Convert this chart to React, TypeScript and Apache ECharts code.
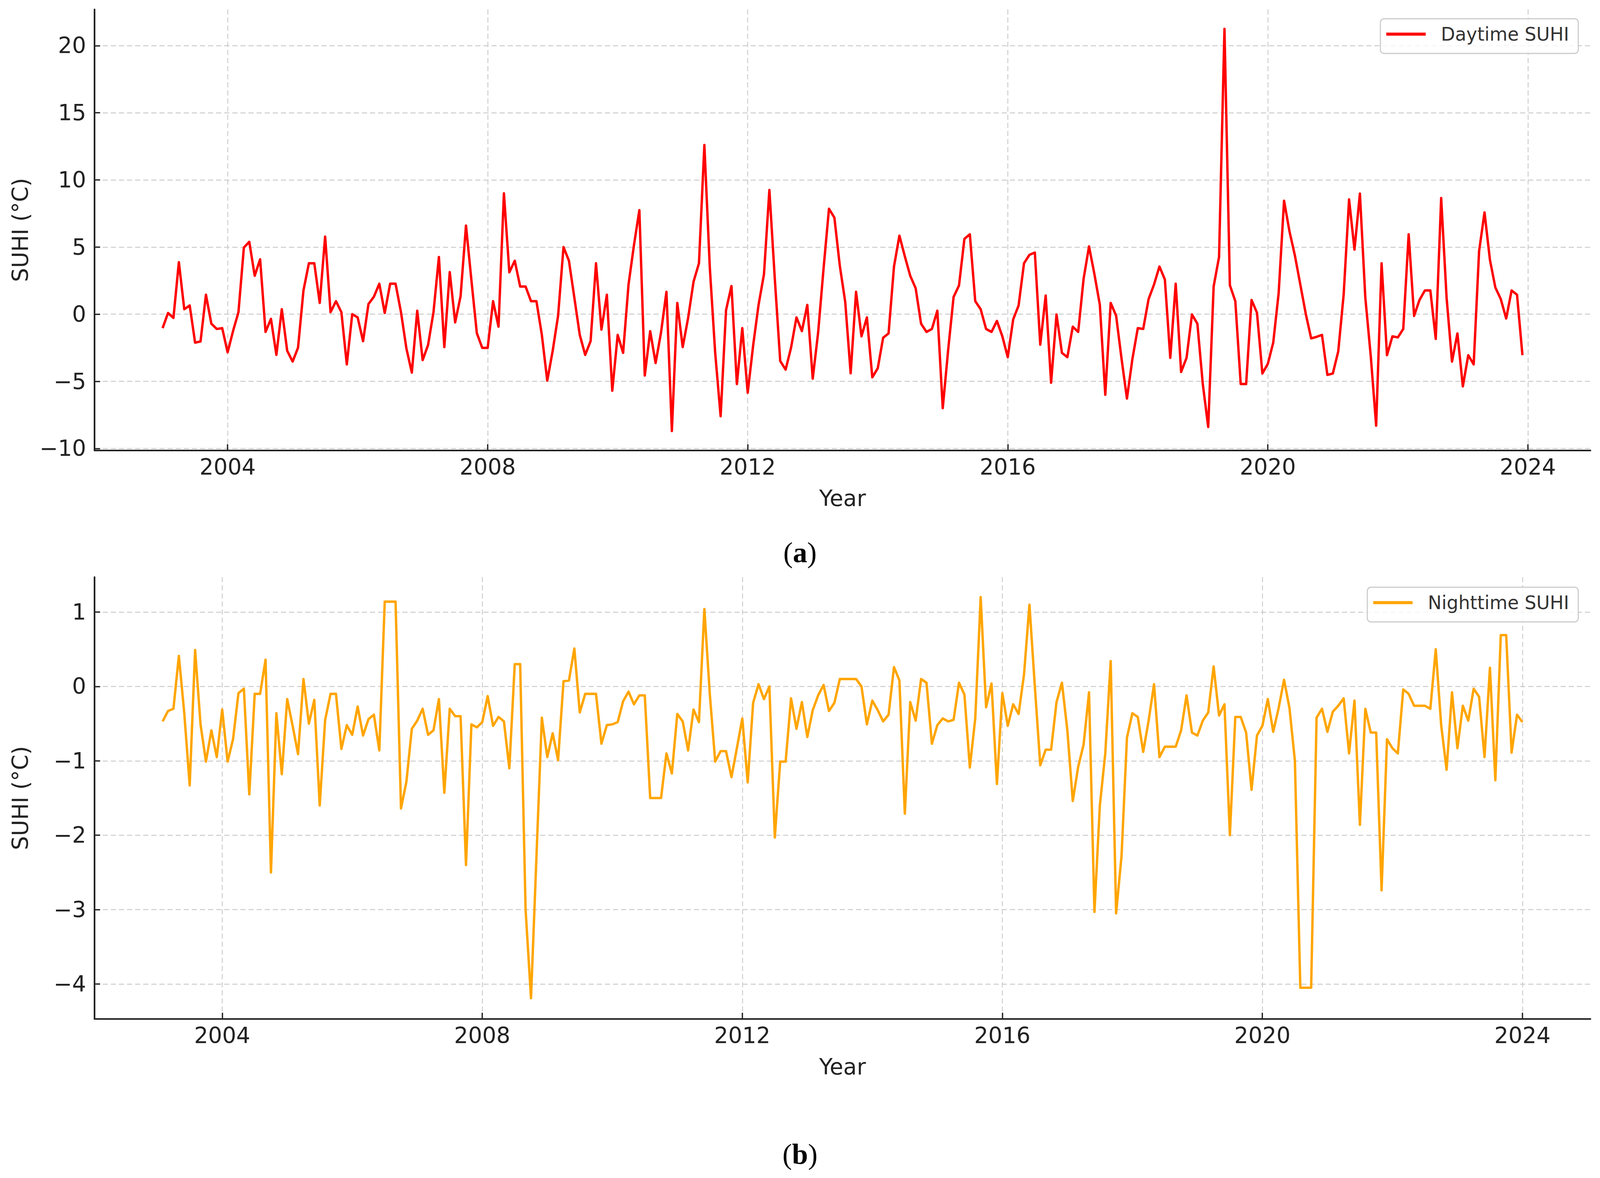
import React, { useEffect, useRef } from "react";
import * as echarts from "echarts";

// Monthly daytime SUHI (°C), Jan 2003 – Dec 2023
const daytimeSUHI = [
  -1.04, 0.09, -0.28, 3.87, 0.37, 0.65, -2.12, -2.03, 1.45, -0.71, -1.1, -1.04,
  -2.84, -1.26, 0.15, 4.96, 5.39, 2.86, 4.09, -1.32, -0.35, -3.03, 0.37, -2.73,
  -3.53, -2.49, 1.77, 3.79, 3.79, 0.84, 5.78, 0.15, 0.97, 0.15, -3.74, 0.0,
  -0.24, -2.01, 0.76, 1.3, 2.27, 0.09, 2.27, 2.27, 0.15, -2.55, -4.35, 0.26,
  -3.42, -2.29, 0.15, 4.26, -2.45, 3.14, -0.61, 1.34, 6.6, 2.53, -1.41, -2.51,
  -2.51, 0.97, -0.93, 9.0, 3.12, 3.98, 2.06, 2.06, 0.97, 0.97, -1.54, -4.95,
  -2.73, -0.11, 5.0, 3.98, 1.23, -1.54, -3.03, -2.01, 3.79, -1.15, 1.45, -5.7,
  -1.54, -2.88, 2.21, 5.13, 7.75, -4.57, -1.26, -3.64, -1.36, 1.67, -8.7, 0.84,
  -2.45, -0.28, 2.42, 3.79, 12.6, 3.5, -2.9, -7.6, 0.3, 2.1, -5.2, -1.04,
  -5.85, -2.34, 0.69, 2.97, 9.25, 2.64, -3.48, -4.13, -2.49, -0.24, -1.26, 0.69,
  -4.8, -1.36, 3.4, 7.85, 7.19, 3.61, 0.91, -4.4, 1.67, -1.65, -0.24, -4.7,
  -4.03, -1.75, -1.43, 3.55, 5.85, 4.31, 2.86, 1.93, -0.71, -1.32, -1.1, 0.26,
  -7.0, -2.66, 1.28, 2.14, 5.61, 5.95, 0.97, 0.37, -1.1, -1.32, -0.5, -1.65,
  -3.2, -0.39, 0.65, 3.79, 4.42, 4.59, -2.27, 1.39, -5.1, -0.02, -2.88, -3.2,
  -0.93, -1.32, 2.64, 5.05, 2.97, 0.69, -6.0, 0.84, -0.11, -3.31, -6.28, -3.35,
  -1.04, -1.1, 1.13, 2.21, 3.55, 2.58, -3.25, 2.27, -4.3, -3.25, -0.02, -0.71,
  -5.2, -8.4, 2.06, 4.26, 21.25, 2.16, 0.97, -5.2, -5.2, 1.06, 0.11, -4.42,
  -3.7, -2.12, 1.56, 8.45, 6.17, 4.37, 2.21, 0.04, -1.8, -1.69, -1.54, -4.52,
  -4.42, -2.77, 1.45, 8.55, 4.81, 8.98, 1.23, -3.1, -8.3, 3.79, -3.05, -1.65,
  -1.73, -1.1, 5.95, -0.13, 1.06, 1.77, 1.77, -1.84, 8.65, 1.23, -3.53, -1.43,
  -5.38, -3.05, -3.74, 4.7, 7.58, 4.05, 1.99, 1.13, -0.32, 1.77, 1.45, -3.05,
];

// Monthly nighttime SUHI (°C), Feb 2003 – Jan 2024
const nighttimeSUHI = [
  -0.47, -0.33, -0.3, 0.41, -0.36, -1.33, 0.49, -0.51, -1.01, -0.59, -0.95,
  -0.31, -1.01, -0.71, -0.09, -0.03, -1.45, -0.1, -0.1, 0.36, -2.5, -0.36, -1.18,
  -0.17, -0.53, -0.91, 0.1, -0.5, -0.18, -1.6, -0.45, -0.1, -0.1, -0.84, -0.52,
  -0.65, -0.27, -0.66, -0.44, -0.38, -0.86, 1.14, 1.14, 1.14, -1.64, -1.28, -0.57,
  -0.46, -0.3, -0.65, -0.59, -0.17, -1.43, -0.3, -0.4, -0.4, -2.4, -0.51, -0.55,
  -0.48, -0.13, -0.53, -0.41, -0.47, -1.1, 0.3, 0.3, -3.0, -4.19, -2.3, -0.42,
  -0.95, -0.63, -0.99, 0.07, 0.08, 0.51, -0.35, -0.1, -0.1, -0.1, -0.77, -0.52,
  -0.51, -0.48, -0.2, -0.07, -0.24, -0.12, -0.12, -1.5, -1.5, -1.5, -0.9, -1.17,
  -0.37, -0.47, -0.86, -0.31, -0.48, 1.04, -0.1, -1.01, -0.87, -0.87, -1.22, -0.83,
  -0.43, -1.29, -0.22, 0.03, -0.17, 0.0, -2.03, -1.01, -1.01, -0.16, -0.57, -0.21,
  -0.68, -0.32, -0.12, 0.02, -0.33, -0.22, 0.1, 0.1, 0.1, 0.1, 0.0, -0.51,
  -0.19, -0.32, -0.47, -0.38, 0.26, 0.08, -1.71, -0.21, -0.46, 0.1, 0.05, -0.77,
  -0.52, -0.43, -0.47, -0.45, 0.05, -0.11, -1.09, -0.43, 1.2, -0.28, 0.04, -1.31,
  -0.09, -0.53, -0.24, -0.37, 0.16, 1.1, 0.0, -1.06, -0.85, -0.85, -0.21, 0.05,
  -0.59, -1.54, -1.08, -0.78, -0.08, -3.03, -1.6, -0.9, 0.34, -3.05, -2.28, -0.69,
  -0.36, -0.41, -0.88, -0.46, 0.03, -0.95, -0.81, -0.81, -0.81, -0.59, -0.12, -0.62,
  -0.66, -0.46, -0.35, 0.27, -0.39, -0.24, -2.0, -0.41, -0.41, -0.62, -1.39, -0.66,
  -0.53, -0.17, -0.61, -0.29, 0.09, -0.29, -1.0, -4.05, -4.05, -4.05, -0.42, -0.3,
  -0.61, -0.34, -0.26, -0.16, -0.9, -0.19, -1.86, -0.3, -0.62, -0.62, -2.74, -0.71,
  -0.83, -0.9, -0.04, -0.1, -0.26, -0.26, -0.26, -0.3, 0.5, -0.52, -1.12, -0.08,
  -0.83, -0.26, -0.46, -0.03, -0.14, -0.95, 0.25, -1.26, 0.69, 0.69, -0.89, -0.38,
  -0.48,
];

const daytimeStart = [2003, 1]; // first month: January 2003
const nighttimeStart = [2003, 2]; // first month: February 2003

const yearTicks = [2004, 2008, 2012, 2016, 2020, 2024];
const daytimeTicks = [-10, -5, 0, 5, 10, 15, 20];
const nighttimeTicks = [-4, -3, -2, -1, 0, 1];
const daytimeRange = [-10.15, 22.7];
const nighttimeRange = [-4.47, 1.47];

const seriesNames = ["Daytime SUHI", "Nighttime SUHI"];
const seriesColors = ["#ff0000", "#ffa500"];
const panelLabels = ["a", "b"];

const W0 = 4346;
const H0 = 3015;
const FONT = "DejaVu Sans";
const TEXT = "#222222";
const AXIS = "#222222";
const GRIDC = "#cccccc";

function toPairs(values: number[], start: number[]) {
  return values.map((v, i) => [start[0] + (start[1] - 1 + i) / 12, v]);
}

function paddedRange(pairs: number[][]) {
  const xs = pairs.map((p) => p[0]);
  const lo = Math.min(...xs);
  const hi = Math.max(...xs);
  const m = (hi - lo) * 0.05;
  return [lo - m, hi + m];
}

const minus = (v: number) => String(v).replace("-", "\u2212");

function buildOption(W: number, H: number) {
  const sx = W / W0;
  const sy = H / H0;
  const sf = Math.min(sx, sy);
  const X = (v: number) => v * sx;
  const Y = (v: number) => v * sy;
  const F = (v: number) => v * sf;

  const dayData = toPairs(daytimeSUHI, daytimeStart);
  const nightData = toPairs(nighttimeSUHI, nighttimeStart);

  const grid = (t: number) => ({ left: X(257), right: X(26), top: Y(t), height: Y(t === 24 ? 1129 : 1131) });

  const split = { show: true, lineStyle: { color: GRIDC, width: F(2.5), type: [F(14), F(8)] } };
  const axisLine = { show: true, onZero: false, lineStyle: { color: AXIS, width: F(4.5) } };
  const nameStyle = { fontFamily: FONT, fontSize: F(60), color: TEXT, lineHeight: F(60) };
  const labelStyle = { fontFamily: FONT, fontSize: F(60), lineHeight: F(60), color: TEXT };

  const xAxisCfg = (gridIndex: number, range: number[]) => ({
    type: "value",
    gridIndex,
    min: range[0],
    max: range[1],
    name: "Year",
    nameLocation: "middle",
    nameGap: Y(94),
    nameMoveOverlap: false,
    nameTextStyle: nameStyle,
    axisLine,
    axisTick: { show: true, inside: true, length: Y(16), customValues: yearTicks, lineStyle: { color: AXIS, width: F(3.5) } },
    axisLabel: { show: true, customValues: yearTicks, margin: Y(14), ...labelStyle, formatter: (v: number) => String(Math.round(v)) },
    splitLine: split,
  });

  const yAxisCfg = (gridIndex: number, range: number[], ticks: number[]) => ({
    type: "value",
    gridIndex,
    min: range[0],
    max: range[1],
    name: "SUHI (°C)",
    nameLocation: "middle",
    nameRotate: 90,
    nameGap: X(171),
    nameMoveOverlap: false,
    nameTextStyle: nameStyle,
    axisLine,
    axisTick: { show: true, inside: true, length: X(15), customValues: ticks, lineStyle: { color: AXIS, width: F(3.5) } },
    axisLabel: { show: true, customValues: ticks, margin: X(23), ...labelStyle, formatter: (v: number) => minus(v) },
    splitLine: split,
  });

  const legendCfg = (idx: number, top: number) => ({
    data: [{ name: seriesNames[idx], icon: "rect" }],
    right: X(59),
    top: Y(top),
    orient: "horizontal",
    selectedMode: false,
    padding: [Y(13), X(25), Y(23), X(16)],
    itemWidth: X(107),
    itemHeight: F(8),
    backgroundColor: "rgba(255,255,255,0.8)",
    borderColor: "#cccccc",
    borderWidth: F(3),
    borderRadius: F(10),
    formatter: (n: string) => `{s| }${n}`,
    textStyle: {
      fontFamily: FONT,
      fontSize: F(50),
      lineHeight: F(56),
      color: "#333333",
      rich: { s: { width: X(36), fontSize: F(50), lineHeight: F(56) } },
    },
  });

  const titleCfg = (letter: string, centerY: number) => ({
    text: `{p|(}{b|${letter}}{p|)}`,
    left: "center",
    top: Y(centerY) - F(40),
    padding: 0,
    textStyle: {
      rich: {
        p: { fontFamily: "Liberation Serif", fontSize: F(78), lineHeight: F(80), fontWeight: "normal", color: "#000000" },
        b: { fontFamily: "Liberation Serif", fontSize: F(78), lineHeight: F(80), fontWeight: "bold", color: "#000000" },
      },
    },
  });

  const lineSeries = (idx: number, data: number[][]) => ({
    type: "line",
    name: seriesNames[idx],
    xAxisIndex: idx,
    yAxisIndex: idx,
    data,
    symbol: "none",
    showSymbol: false,
    color: seriesColors[idx],
    lineStyle: { color: seriesColors[idx], width: F(6.5), join: "round" },
    itemStyle: { color: seriesColors[idx] },
    z: 5,
  });

  return {
    animation: false,
    backgroundColor: "#ffffff",
    title: [titleCfg(panelLabels[0], 1414), titleCfg(panelLabels[1], 2954)],
    grid: [grid(24), grid(1477)],
    xAxis: [xAxisCfg(0, paddedRange(dayData)), xAxisCfg(1, paddedRange(nightData))],
    yAxis: [yAxisCfg(0, daytimeRange, daytimeTicks), yAxisCfg(1, nighttimeRange, nighttimeTicks)],
    legend: [legendCfg(0, 48), legendCfg(1, 1503)],
    series: [lineSeries(0, dayData), lineSeries(1, nightData)],
  };
}

export default function App() {
  const ref = useRef<HTMLDivElement>(null);

  useEffect(() => {
    document.body.style.margin = "0";
    document.body.style.overflow = "hidden";
    const el = ref.current;
    if (!el) return;
    const vw = document.documentElement.clientWidth || window.innerWidth || W0;
    const vh = window.innerHeight || H0;
    const W = Math.min(vw, W0);
    const H = Math.min(vh, H0);
    el.style.width = W + "px";
    el.style.height = H + "px";
    const chart = echarts.init(el, undefined, { renderer: "svg", width: W, height: H });
    chart.setOption(buildOption(W, H) as any);
    return () => chart.dispose();
  }, []);

  return <div ref={ref} style={{ width: W0, height: H0 }} />;
}
